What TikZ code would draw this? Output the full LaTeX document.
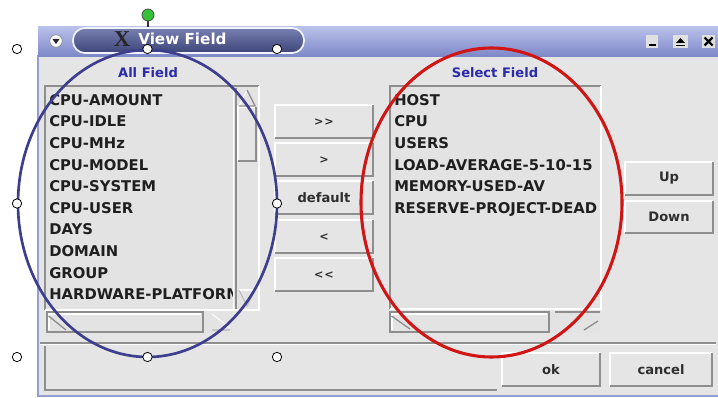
\documentclass[tikz,border=0pt]{standalone}
\usepackage{fontspec}
\setmainfont{DejaVu Sans}
\newfontfamily\logofont{Liberation Serif}
\definecolor{winbg}{HTML}{E5E5E5}
\definecolor{listbg}{HTML}{E3E3E3}
\definecolor{bevdark}{HTML}{8E8E8E}
\definecolor{titletop}{HTML}{B8C0EA}
\definecolor{titlebot}{HTML}{7C86C6}
\definecolor{pilltop}{HTML}{7880B2}
\definecolor{pillbot}{HTML}{3C4478}
\definecolor{labelblue}{HTML}{2A2AAA}
\definecolor{ringblue}{HTML}{3E3E8F}
\definecolor{ringred}{HTML}{D01515}
\definecolor{handlegreen}{HTML}{35C035}

% raised and sunken bevelled panels: #1,#2 top-left corner, #3,#4 bottom-right corner
\newcommand{\raisedpanel}[4]{%
  \fill[winbg] (#1,#2) rectangle (#3,#4);
  \draw[white, line width=1.1pt] (#1,#4) -- (#1,#2) -- (#3,#2);
  \draw[bevdark, line width=1.6pt] (#1,#4) -- (#3,#4) -- (#3,#2);}
\newcommand{\sunkenpanel}[4]{%
  \fill[listbg] (#1,#2) rectangle (#3,#4);
  \draw[bevdark, line width=1.4pt] (#1,#4) -- (#1,#2) -- (#3,#2);
  \draw[white, line width=1.1pt] (#1,#4) -- (#3,#4) -- (#3,#2);}

\tikzset{
  listtext/.style={anchor=base west, inner sep=0pt,
    font=\fontsize{11.1}{12}\selectfont\bfseries, text=black!88},
  headtext/.style={inner sep=0pt, font=\fontsize{9.8}{11}\selectfont\bfseries, text=labelblue},
  btntext/.style={inner sep=0pt, font=\fontsize{9.8}{11}\selectfont\bfseries, text=black!82},
  handle/.style={circle, draw=black, fill=white, line width=0.6pt,
    minimum size=7pt, inner sep=0pt},
  ringline/.style={line width=2pt},
  thinbevel/.style={bevdark, line width=1pt},
}

\begin{document}
\begin{tikzpicture}[x=0.75pt,y=-0.75pt]
\useasboundingbox (0,0) rectangle (718,398);
\fill[white] (0,0) rectangle (718,398);

% ---------- window body ----------
\fill[winbg] (38,55) rectangle (718,396);
\draw[titlebot!80, line width=1pt] (38,55) -- (38,396) -- (718,396);

% ---------- title bar ----------
\shade[top color=titletop, bottom color=titlebot] (38,27) rectangle (718,57);
\shade[top color=pilltop, bottom color=pillbot, rounded corners=9pt] (73,28) rectangle (304,53);
\draw[white!80!titletop, line width=1.3pt, rounded corners=9pt] (73,28) rectangle (304,53);

\node[circle, draw=bevdark, fill=white!95!titletop, minimum size=9.5pt,
      inner sep=0pt, line width=0.6pt] (menu) at (56,41) {};
\fill[black!85] (52.5,39) -- (59.5,39) -- (56,44) -- cycle;

\node[inner sep=0pt, font=\logofont\bfseries\fontsize{17}{17}\selectfont, text=black!85]
  (xlogo) at (122,39) {X};
\node[anchor=west, inner sep=0pt, font=\fontsize{11.4}{12}\selectfont\bfseries,
      text=white] (title) at (138,39) {View Field};

% window controls
\fill[white!88!black] (646,35) rectangle (658,48);
\draw[black, line width=1.6pt] (648.5,45) -- (655.5,45);
\fill[white!88!black] (673,35) rectangle (688,48);
\fill[black] (676,43) -- (685,43) -- (680.5,38) -- cycle;
\draw[black, line width=1pt] (676,45.5) -- (685,45.5);
\fill[white!88!black] (702,35) rectangle (715,48);
\draw[black, line width=1.6pt] (704.5,37.5) -- (712.5,45.5) (712.5,37.5) -- (704.5,45.5);

% ---------- headings ----------
\node[headtext] (hall) at (148,73) {All Field};
\node[headtext] (hsel) at (495,73) {Select Field};

% ---------- left list ----------
\sunkenpanel{45}{86}{259}{310}
\draw[white, line width=1pt] (233.5,88) -- (233.5,309);
\draw[thinbevel] (236,88) -- (236,309);
\raisedpanel{238}{107}{256}{161}
\draw[white, line width=1pt] (239,106) -- (247,90);
\draw[thinbevel] (247,90) -- (255,106) -- (239,106);
\draw[white, line width=0.8pt] (239,290) -- (255,290);
\draw[bevdark!60, line width=0.8pt] (239,290) -- (247,306) -- (255,290);

\begin{scope}
  \clip (47,88) rectangle (232.5,309);
  \node[listtext] (a1)  at (49,105.3) {CPU-AMOUNT};
  \node[listtext] (a2)  at (49,126.9) {CPU-IDLE};
  \node[listtext] (a3)  at (49,148.5) {CPU-MHz};
  \node[listtext] (a4)  at (49,170.1) {CPU-MODEL};
  \node[listtext] (a5)  at (49,191.7) {CPU-SYSTEM};
  \node[listtext] (a6)  at (49,213.3) {CPU-USER};
  \node[listtext] (a7)  at (49,234.9) {DAYS};
  \node[listtext] (a8)  at (49,256.5) {DOMAIN};
  \node[listtext] (a9)  at (49,278.1) {GROUP};
  \node[listtext] (a10) at (49,299.7) {HARDWARE-PLATFORM};
\end{scope}

% left horizontal scrollbar
\fill[listbg] (47,312) rectangle (232,333);
\draw[thinbevel] (47,332) -- (47,312) -- (203,312) -- (203,332) -- cycle;
\draw[white, line width=0.8pt] (49,330) -- (49,314) -- (201,314);
\draw[thinbevel] (48.5,316) -- (66,330);
\draw[white, line width=0.8pt] (212,314) -- (230,328);
\draw[bevdark!50, line width=0.8pt] (212,330) -- (230,330);

% ---------- right list ----------
\sunkenpanel{390}{86}{601}{309}
\begin{scope}
  \clip (392,88) rectangle (599,308);
  \node[listtext] (b1) at (394,105.3) {HOST};
  \node[listtext] (b2) at (394,126.9) {CPU};
  \node[listtext] (b3) at (394,148.5) {USERS};
  \node[listtext] (b4) at (394,170.1) {LOAD-AVERAGE-5-10-15};
  \node[listtext] (b5) at (394,191.7) {MEMORY-USED-AV};
  \node[listtext] (b6) at (394,213.3) {RESERVE-PROJECT-DEAD};
\end{scope}

% right horizontal scrollbar
\fill[listbg] (390,312) rectangle (600,333);
\draw[thinbevel] (390,332) -- (390,312) -- (549,312) -- (549,332) -- cycle;
\draw[white, line width=0.8pt] (392,330) -- (392,314) -- (547,314);
\draw[thinbevel] (391.5,316) -- (410,329);
\draw[thinbevel] (555,312) -- (600,312);
\draw[thinbevel] (584,330) -- (598,321);

% ---------- transfer buttons ----------
\raisedpanel{275}{105}{373}{138}
\raisedpanel{275}{143}{373}{176}
\raisedpanel{275}{181}{373}{214}
\raisedpanel{275}{220}{373}{253}
\raisedpanel{275}{258}{373}{291}
\node[btntext, font=\fontsize{8.4}{10}\selectfont\bfseries] (addall) at (324,122) {>\kern0.6pt>};
\node[btntext, font=\fontsize{8.4}{10}\selectfont\bfseries] (addone) at (324,160) {>};
\node[btntext] (reset)  at (324,198) {default};
\node[btntext, font=\fontsize{8.4}{10}\selectfont\bfseries] (delone) at (324,237) {<};
\node[btntext, font=\fontsize{8.4}{10}\selectfont\bfseries] (delall) at (324,275) {<\kern0.6pt<};

% ---------- ordering buttons ----------
\raisedpanel{625}{162}{713}{195}
\raisedpanel{625}{201}{713}{233}
\node[btntext] (up)   at (669,178.5) {Up};
\node[btntext] (down) at (669,217) {Down};

% ---------- bottom area ----------
\draw[thinbevel] (40,343) -- (716,343);
\draw[white, line width=1pt] (40,344.6) -- (716,344.6);
\draw[thinbevel] (45,346) -- (45,390) -- (497,390);
\raisedpanel{502}{353}{600}{386}
\raisedpanel{610}{353}{712}{386}
\node[btntext] (ok)     at (551,369.5) {ok};
\node[btntext] (cancel) at (661,369.5) {cancel};

% ---------- selection outlines ----------
\draw[ringblue, ringline] (147.5,203.5) ellipse [x radius=129.5, y radius=153.5];
\draw[ringred, line width=2.3pt] (491.5,202.5) ellipse [x radius=130.5, y radius=154.5];

% ---------- selection handles ----------
\coordinate (gripfoot) at (148,27);
\node[circle, draw=black!70, fill=handlegreen, line width=0.6pt, minimum size=9pt,
      inner sep=0pt] (grip) at (148,15) {};
\draw[black!80, line width=0.8pt] (grip) -- (gripfoot);
\node[handle] (h1) at (17,49) {};
\node[handle] (h2) at (147.5,49) {};
\node[handle] (h3) at (277,49) {};
\node[handle] (h4) at (17,203.5) {};
\node[handle] (h5) at (277,203.5) {};
\node[handle] (h6) at (17,357) {};
\node[handle] (h7) at (147.5,357) {};
\node[handle] (h8) at (277,357) {};
\end{tikzpicture}
\end{document}
